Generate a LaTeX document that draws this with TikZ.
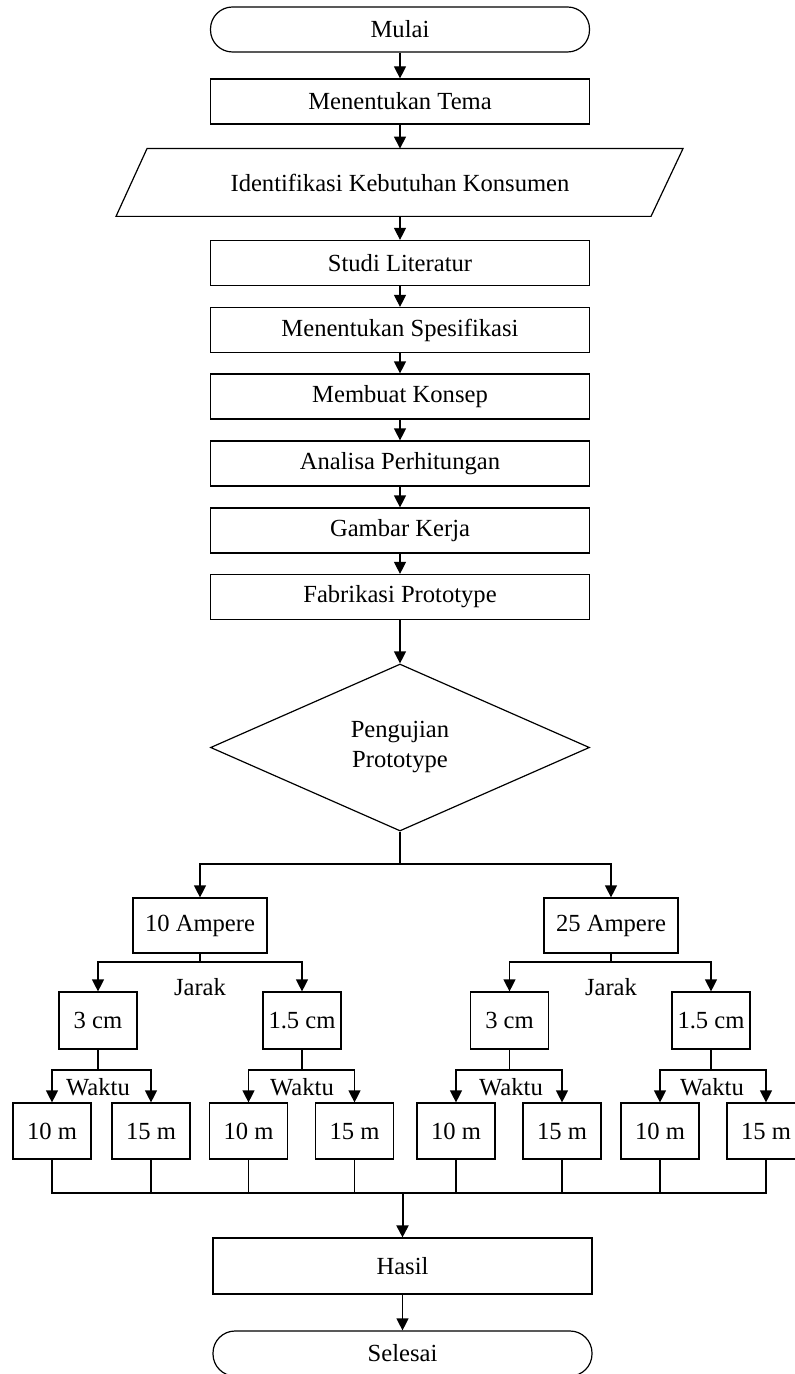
\documentclass[tikz,border=0pt]{standalone}
\usepackage{fontspec}
\setmainfont{Liberation Serif}
\usetikzlibrary{arrows.meta,shapes.geometric}
\tikzset{
  base/.style={draw, line width=0.6pt, font=\fontsize{12.3}{15}\selectfont, inner sep=0pt, align=center},
  procbox/.style={base, rectangle, minimum width=189.5pt, minimum height=22.5pt},
  termbox/.style={base, rectangle, rounded corners=11pt, minimum width=189.5pt, minimum height=22.5pt},
  smallbox/.style={base, rectangle, minimum width=39pt, minimum height=28.5pt},
  leafbox/.style={base, rectangle, minimum width=39pt, minimum height=28pt},
  ampbox/.style={base, rectangle, minimum width=67pt, minimum height=27.5pt},
  decbox/.style={base, diamond, minimum width=189.5pt, minimum height=83.5pt},
  lbl/.style={font=\fontsize{12.3}{15}\selectfont, inner sep=0pt},
  arr/.style={line width=0.6pt, -{Triangle[length=6pt,width=6pt]}},
  ln/.style={line width=0.6pt},
}
\begin{document}
\begin{tikzpicture}[x=0.5pt,y=-0.5pt]
\useasboundingbox (0,0) rectangle (795,1374);
% main column
\node[termbox] (mulai) at (400,29.5) {Mulai};
\node[procbox] (tema) at (400,101.5) {Menentukan Tema};
\node[lbl, minimum width=250pt, minimum height=33.5pt] (ident) at (400,182.5) {Identifikasi Kebutuhan Konsumen};
\draw[ln] ([xshift=-126.5pt]ident.north) -- ([xshift=141.5pt]ident.north) -- ([xshift=125.5pt]ident.south) -- ([xshift=-142pt]ident.south) -- cycle;
\node[procbox] (studi) at (400,263) {Studi Literatur};
\node[procbox] (spes) at (400,330) {Menentukan Spesifikasi};
\node[procbox] (konsep) at (400,396.5) {Membuat Konsep};
\node[procbox] (analisa) at (400,463.5) {Analisa Perhitungan};
\node[procbox] (gambar) at (400,530.5) {Gambar Kerja};
\node[procbox] (fab) at (400,597) {Fabrikasi Prototype};
\node[decbox] (uji) at (400,747.5) {Pengujian\\Prototype};

\draw[arr] (mulai) -- (tema);
\draw[arr] (tema) -- (ident);
\draw[arr] (ident) -- (studi);
\draw[arr] (studi) -- (spes);
\draw[arr] (spes) -- (konsep);
\draw[arr] (konsep) -- (analisa);
\draw[arr] (analisa) -- (gambar);
\draw[arr] (gambar) -- (fab);
\draw[arr] (fab) -- (uji);

% current branches
\coordinate (s1) at (400,864);
\node[ampbox] (a10) at (200,925.5) {10 Ampere};
\node[ampbox] (a25) at (611,925.5) {25 Ampere};
\draw[ln] (uji.south) -- (s1);
\draw[arr] (s1) -| (a10);
\draw[arr] (s1) -| (a25);

% distance branches
\coordinate (j1) at (200,962);
\coordinate (j2) at (611,962);
\node[smallbox] (c3a) at (98,1020.5) {3 cm};
\node[smallbox] (c15a) at (302,1020.5) {1.5 cm};
\node[smallbox] (c3b) at (509.5,1020.5) {3 cm};
\node[smallbox] (c15b) at (711,1020.5) {1.5 cm};
\node[lbl] (jarakA) at (200,987) {Jarak};
\node[lbl] (jarakB) at (611,987) {Jarak};
\draw[ln] (a10) -- (j1);
\draw[ln] (a25) -- (j2);
\draw[arr] (j1) -| (c3a);
\draw[arr] (j1) -| (c15a);
\draw[arr] (j2) -| (c3b);
\draw[arr] (j2) -| (c15b);

% time branches
\coordinate (w1) at (98,1070);
\coordinate (w2) at (302,1070);
\coordinate (w3) at (509.5,1070);
\coordinate (w4) at (711,1070);
\node[lbl] (wk1) at (98,1087) {Waktu};
\node[lbl] (wk2) at (302,1087) {Waktu};
\node[lbl] (wk3) at (511,1087) {Waktu};
\node[lbl] (wk4) at (712,1087) {Waktu};
\node[leafbox] (l1) at (52,1131) {10 m};
\node[leafbox] (l2) at (151,1131) {15 m};
\node[leafbox] (l3) at (248.5,1131) {10 m};
\node[leafbox] (l4) at (354.5,1131) {15 m};
\node[leafbox] (l5) at (456,1131) {10 m};
\node[leafbox] (l6) at (562,1131) {15 m};
\node[leafbox] (l7) at (660,1131) {10 m};
\node[leafbox] (l8) at (766,1131) {15 m};
\draw[ln] (c3a) -- (w1);
\draw[ln] (c15a) -- (w2);
\draw[ln] (c3b) -- (w3);
\draw[ln] (c15b) -- (w4);
\draw[arr] (w1) -| (l1);
\draw[arr] (w1) -| (l2);
\draw[arr] (w2) -| (l3);
\draw[arr] (w2) -| (l4);
\draw[arr] (w3) -| (l5);
\draw[arr] (w3) -| (l6);
\draw[arr] (w4) -| (l7);
\draw[arr] (w4) -| (l8);

% merge
\coordinate (b) at (402.5,1193);
\node[procbox, minimum height=28pt] (hasil) at (402.5,1266) {Hasil};
\node[termbox] (selesai) at (402.5,1353.5) {Selesai};
\foreach \n in {l1,l2,l3,l4,l5,l6,l7,l8} { \draw[ln] (\n) |- (b); }
\draw[arr, line width=1pt] (b) -- (hasil);
\draw[arr] (hasil) -- (selesai);
\end{tikzpicture}
\end{document}
